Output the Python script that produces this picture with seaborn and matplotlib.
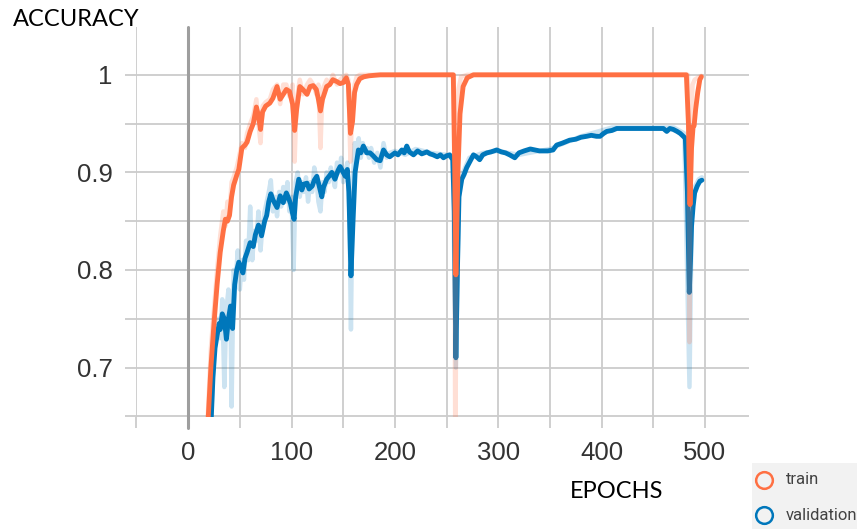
import matplotlib
matplotlib.use("Agg")
import matplotlib.pyplot as plt
import seaborn as sns
from matplotlib.patches import Rectangle
from matplotlib.lines import Line2D
from matplotlib.ticker import FixedLocator

# ---------------- data ----------------
train_epochs = [19, 22, 25, 28, 31, 34, 36, 38, 40, 42, 44, 47, 49, 52, 55, 57, 60, 63, 66, 68,
                70, 72, 75, 79, 82, 86, 89, 92, 95, 98, 101, 103, 105, 108, 111, 115, 118, 121,
                124, 126, 128, 130, 134, 137, 140, 144, 147, 150, 153, 155, 157, 159, 161, 163,
                166, 170, 175, 180, 186, 195, 256.5, 258, 259, 260, 261, 263, 266, 270, 276,
                482, 484, 485.5, 487, 488.5, 489.5, 491, 493, 495, 496.5]
train_acc = [0.64, 0.70, 0.745, 0.785, 0.818, 0.840, 0.852, 0.850, 0.856, 0.875, 0.887, 0.897,
             0.903, 0.925, 0.928, 0.931, 0.942, 0.950, 0.967, 0.958, 0.944, 0.962, 0.968, 0.971,
             0.976, 0.988, 0.975, 0.980, 0.985, 0.983, 0.970, 0.943, 0.965, 0.988, 0.985, 0.980,
             0.988, 0.989, 0.985, 0.975, 0.963, 0.975, 0.988, 0.990, 0.995, 0.993, 0.991, 0.992,
             0.997, 0.990, 0.940, 0.952, 0.982, 0.990, 0.996, 0.998, 0.999, 0.9995, 1.0, 1.0,
             1.0, 0.90, 0.795, 0.85, 0.90, 0.960, 0.988, 0.997, 1.0,
             1.0, 0.95, 0.867, 0.925, 0.947, 0.948, 0.965, 0.982, 0.995, 0.998]

train_raw_epochs = [19, 22, 25, 28, 31, 34, 36, 38, 40, 42, 44, 47, 49, 52, 55, 57, 60, 63, 66,
                    68, 70, 72, 75, 79, 82, 86, 89, 92, 95, 98, 101, 103, 105, 108, 111, 115, 118,
                    121, 124, 126, 128, 130, 134, 137, 140, 144, 147, 150, 153, 155, 157, 159,
                    161, 163, 166, 175, 195, 257, 258.5, 260, 261.5, 264, 270,
                    483.5, 485, 486.5, 488, 490, 493, 496.5]
train_raw_acc = [0.65, 0.72, 0.76, 0.80, 0.835, 0.86, 0.845, 0.87, 0.86, 0.89, 0.895, 0.905,
                 0.915, 0.93, 0.925, 0.94, 0.95, 0.958, 0.975, 0.95, 0.93, 0.968, 0.972, 0.975,
                 0.985, 0.99, 0.97, 0.99, 0.99, 0.978, 0.99, 0.911, 0.975, 0.995, 0.98, 0.99,
                 0.995, 0.99, 0.98, 0.99, 0.925, 0.985, 0.995, 0.99, 1.0, 0.99, 0.995, 0.998,
                 1.0, 0.995, 0.911, 0.975, 0.99, 0.998, 1.0, 1.0, 1.0, 1.0, 0.60, 0.90, 0.985,
                 0.998, 1.0,
                 1.0, 0.726, 0.95, 0.99, 0.995, 0.997, 0.999]

val_epochs = [22, 24, 26, 28, 30, 31, 33, 35, 37, 39, 41, 43, 45, 47, 49, 51, 53, 55, 57, 60,
              63, 65, 68, 70, 71, 74, 76, 78, 80, 82, 84, 86, 89, 92, 95, 97, 99, 101, 102.5,
              104, 107, 110, 112, 115, 117, 120, 122, 124.5, 127, 129.3, 131, 134, 137, 139,
              142, 145, 147, 150, 152, 154, 155.5, 157.5, 159.5, 161.5, 164.7, 167, 169.5,
              172.8, 176, 179, 182.5, 185.7, 189, 192, 195, 200, 203, 206.7, 209, 211.5, 214,
              218, 222, 226, 231, 234, 237, 241, 244, 247, 250, 253, 256, 257.5, 259, 260.5,
              262, 264.7, 267, 269.5, 272, 276, 279, 282, 285, 289, 293, 298.5, 303, 307, 311,
              316, 320, 325, 331, 340, 348, 353, 356.5, 362, 369, 375, 380, 385.6, 390, 395,
              398.5, 402, 405, 410, 414.6, 425, 440, 455, 459.7, 463, 466, 469.4, 473, 476,
              479, 481, 483, 484.8, 486, 487, 488.5, 490, 492.5, 495, 497]
val_acc = [0.64, 0.69, 0.72, 0.733, 0.745, 0.739, 0.755, 0.750, 0.729, 0.750, 0.763, 0.740,
           0.785, 0.800, 0.808, 0.803, 0.797, 0.812, 0.818, 0.828, 0.824, 0.836, 0.846, 0.840,
           0.835, 0.850, 0.856, 0.870, 0.878, 0.872, 0.868, 0.864, 0.876, 0.869, 0.879, 0.874,
           0.868, 0.858, 0.852, 0.875, 0.893, 0.882, 0.888, 0.889, 0.883, 0.886, 0.892, 0.896,
           0.885, 0.875, 0.885, 0.893, 0.897, 0.900, 0.893, 0.902, 0.906, 0.900, 0.896, 0.903,
           0.880, 0.794, 0.850, 0.900, 0.923, 0.920, 0.927, 0.920, 0.920, 0.917, 0.913, 0.912,
           0.923, 0.918, 0.916, 0.920, 0.918, 0.923, 0.920, 0.927, 0.921, 0.918, 0.922, 0.919,
           0.921, 0.919, 0.918, 0.916, 0.918, 0.915, 0.917, 0.918, 0.913, 0.86, 0.71, 0.80,
           0.875, 0.893, 0.898, 0.905, 0.910, 0.918, 0.916, 0.913, 0.918, 0.920, 0.921, 0.923,
           0.921, 0.920, 0.918, 0.915, 0.920, 0.922, 0.924, 0.922, 0.922, 0.923, 0.928, 0.930,
           0.933, 0.934, 0.936, 0.937, 0.938, 0.937, 0.937, 0.940, 0.942, 0.943, 0.945, 0.945,
           0.945, 0.945, 0.945, 0.942, 0.945, 0.944, 0.942, 0.940, 0.937, 0.935, 0.88, 0.777,
           0.81, 0.845, 0.865, 0.879, 0.886, 0.891, 0.892]

val_raw_epochs = [22, 25, 27, 29, 31, 33, 35, 37, 39, 41, 42, 44, 46, 48, 50, 52, 54, 56, 58,
                  60, 62, 64, 66, 68, 70, 72, 74, 76, 78, 80, 82, 84, 86, 88, 90, 92, 94, 96, 98,
                  100, 102, 104, 106, 108, 110, 112, 114, 116, 118, 120, 122, 124, 126, 128, 130,
                  132, 134, 136, 138, 140, 142, 144, 146, 148, 150, 152, 154, 156, 157.5, 159,
                  161, 163, 165, 167, 169, 171, 173, 175, 177, 180, 183, 186, 189, 192, 195, 200,
                  210, 220, 235, 250, 256, 259, 262, 266, 272, 285, 300, 320, 350, 380, 410, 440,
                  470, 480, 485, 487.5, 490, 494, 497]
val_raw_acc = [0.64, 0.72, 0.74, 0.75, 0.73, 0.77, 0.68, 0.76, 0.78, 0.755, 0.66, 0.80, 0.79,
               0.82, 0.78, 0.81, 0.79, 0.83, 0.81, 0.865, 0.81, 0.84, 0.83, 0.86, 0.82, 0.845,
               0.86, 0.87, 0.88, 0.892, 0.86, 0.875, 0.855, 0.88, 0.865, 0.885, 0.87, 0.89, 0.86,
               0.875, 0.80, 0.89, 0.90, 0.875, 0.89, 0.88, 0.895, 0.87, 0.89, 0.88, 0.905, 0.895,
               0.87, 0.86, 0.89, 0.88, 0.90, 0.89, 0.905, 0.895, 0.885, 0.91, 0.90, 0.915, 0.89,
               0.90, 0.91, 0.86, 0.739, 0.88, 0.93, 0.925, 0.935, 0.915, 0.93, 0.92, 0.925, 0.915,
               0.925, 0.91, 0.92, 0.905, 0.93, 0.915, 0.92, 0.922, 0.918, 0.924, 0.92, 0.918,
               0.914, 0.70, 0.88, 0.90, 0.915, 0.92, 0.922, 0.918, 0.924, 0.937, 0.946, 0.946,
               0.946, 0.94, 0.68, 0.88, 0.885, 0.893, 0.895]

# ---------------- style ----------------
ORANGE = "#ff7043"
BLUE = "#0077bb"
GRID = "#cccccc"

sns.set_theme(style="white")
plt.rcParams["font.family"] = ["Liberation Sans", "DejaVu Sans"]

fig = plt.figure(figsize=(8.57, 5.29), dpi=100)
fig.patch.set_facecolor("white")
ax = fig.add_axes([0.159, 0.2121, 0.715, 0.737])

line_kw = dict(estimator=None, sort=False, legend=False)
sns.lineplot(x=val_raw_epochs, y=val_raw_acc, ax=ax, color=BLUE, alpha=0.2, lw=3.2, **line_kw)
sns.lineplot(x=val_epochs, y=val_acc, ax=ax, color=BLUE, lw=3.5, **line_kw)
sns.lineplot(x=train_raw_epochs, y=train_raw_acc, ax=ax, color=ORANGE, alpha=0.22, lw=3.2, **line_kw)
sns.lineplot(x=train_epochs, y=train_acc, ax=ax, color=ORANGE, lw=3.5, **line_kw)
for ln in ax.get_lines():
    ln.set_solid_joinstyle("round")

ax.set_xlim(-50.2, 542.6)
ax.set_ylim(0.6495, 1.0491)

ax.xaxis.set_major_locator(FixedLocator([0, 100, 200, 300, 400, 500]))
ax.xaxis.set_minor_locator(FixedLocator([-50, 50, 150, 250, 350, 450]))
ax.yaxis.set_major_locator(FixedLocator([0.7, 0.8, 0.9, 1.0]))
ax.yaxis.set_minor_locator(FixedLocator([0.65, 0.75, 0.85, 0.95]))
ax.set_xticklabels(["0", "100", "200", "300", "400", "500"])
ax.set_yticklabels(["0.7", "0.8", "0.9", "1"])

ax.grid(True, which="both", color=GRID, lw=1.3)
ax.set_axisbelow(True)
for s in ax.spines.values():
    s.set_visible(False)
ax.tick_params(axis="x", which="both", length=8.2, width=1.3, color=GRID, direction="out",
               pad=9, labelsize=18.5, labelcolor="#333333", bottom=True)
ax.tick_params(axis="y", which="both", length=8.0, width=1.3, color=GRID, direction="out",
               pad=9, labelsize=18.5, labelcolor="#333333", left=True)
ax.set_xlabel("")
ax.set_ylabel("")

ax.axvline(0, ymin=-0.028, ymax=1, color="#9e9e9e", lw=2.2, clip_on=False, zorder=1.5)

fig.text(13 / 857, 1 - 26 / 529, "ACCURACY", family=["Lato", "DejaVu Sans"], fontsize=17,
         color="black", ha="left", va="baseline")
fig.text(570 / 857, 1 - 498 / 529, "EPOCHS", family=["Lato", "DejaVu Sans"], fontsize=17,
         color="black", ha="left", va="baseline")

# legend box
fig.add_artist(Rectangle((752 / 857, 0), 105 / 857, 66 / 529, transform=fig.transFigure,
                         facecolor="#f2f2f2", edgecolor="none", zorder=0))
for yc, col, lab in [(480, ORANGE, "train"), (515, BLUE, "validation")]:
    fig.add_artist(Line2D([764 / 857], [1 - yc / 529], marker="o", ms=12, mfc="none", mec=col,
                          mew=1.8, transform=fig.transFigure))
    fig.text(786 / 857, 1 - yc / 529, lab, family=["Roboto", "DejaVu Sans"], fontsize=12,
             color="#424242", ha="left", va="center")

fig.savefig("out.png", dpi=100, facecolor="white")
